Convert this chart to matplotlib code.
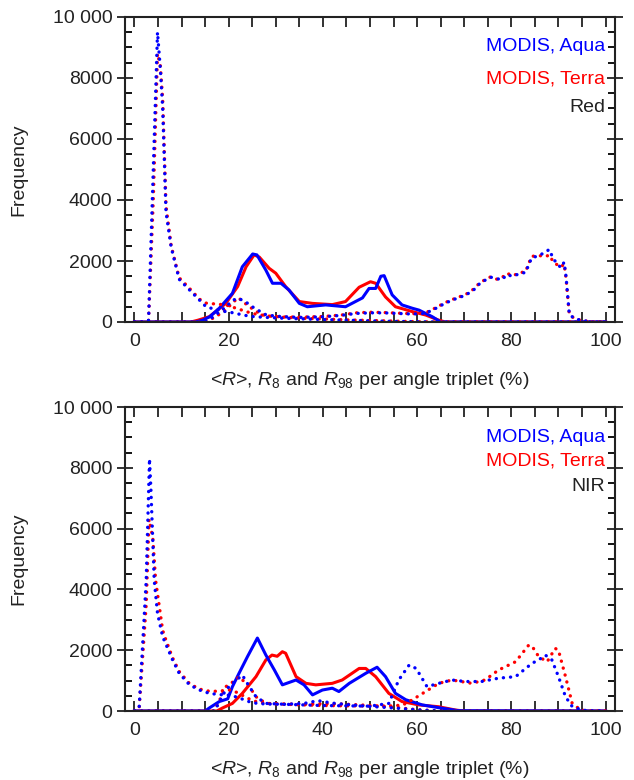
import numpy as np
import matplotlib.pyplot as plt
from matplotlib.ticker import MultipleLocator, FuncFormatter

plt.rcParams['font.family'] = ['Liberation Sans', 'DejaVu Sans']
plt.rcParams['mathtext.fontset'] = 'custom'
plt.rcParams['mathtext.rm'] = 'Liberation Sans'
plt.rcParams['mathtext.it'] = 'Liberation Sans:italic'

###############################################################################
# Data
###############################################################################

# ---- Red band (top panel) ----
red_mean_aqua_x = [0, 13, 14.5, 16, 18, 20.8, 22.9, 25.1, 26, 27.9, 29.3, 31.1, 32.8, 35, 36.7,
                   40.6, 44.8, 48.4, 49.8, 51.2, 52.3, 53, 54.7, 56.8, 59, 60.4, 63.2, 65, 100]
red_mean_aqua_y = [0, 0, 60, 175, 450, 940, 1810, 2230, 2200, 1700, 1270, 1270, 1050, 610, 500,
                   560, 500, 790, 1100, 1100, 1500, 1520, 890, 560, 450, 390, 175, 0, 0]
red_mean_terra_x = [0, 12, 13.5, 15.9, 19.4, 21.9, 23.7, 25.4, 26.5, 28.6, 30, 32.1, 35, 37.8,
                    42, 44.8, 47.7, 50.1, 51.2, 53.3, 55.4, 59, 61.8, 64.6, 66, 100]
red_mean_terra_y = [0, 0, 60, 175, 610, 1160, 1810, 2200, 2130, 1760, 1600, 1160, 670, 610,
                    570, 670, 1140, 1320, 1270, 820, 500, 340, 230, 60, 0, 0]

red_r8_aqua_x = [0, 2, 3, 4, 4.9, 5.5, 6, 6.7, 7.8, 9.5, 11.7, 13.8, 15.2, 17, 19, 21, 23, 25,
                 28, 32, 36, 40, 45, 50, 55, 60, 65, 100]
red_r8_aqua_y = [0, 0, 50, 5000, 9500, 8300, 7000, 3600, 2450, 1400, 1050, 720, 500, 420, 350,
                 300, 230, 180, 150, 120, 100, 80, 60, 40, 20, 10, 0, 0]
red_r8_terra_x = [0, 2, 3, 4, 4.9, 5.5, 6, 6.7, 7.8, 9.5, 11.7, 13.8, 15.2, 16.5, 19.4, 21, 23,
                  25, 28, 32, 36, 40, 45, 50, 55, 60, 65, 100]
red_r8_terra_y = [0, 0, 50, 4000, 8800, 8400, 7300, 3800, 2500, 1450, 1100, 750, 620, 600, 560,
                  480, 380, 280, 200, 150, 120, 100, 70, 50, 30, 10, 0, 0]

red_r98_aqua_x = [0, 15, 17, 19, 21, 22, 23.5, 25.5, 28, 31, 35, 40, 44, 47, 50, 53, 56, 59, 61.8,
                  64, 66, 68, 70.3, 72, 73.4, 75.6, 77, 78, 79, 80.3, 82, 83, 84.3, 85.7, 87.4,
                  88, 89, 90.5, 91.2, 91.6, 92.3, 93.5, 94.8, 97, 100]
red_r98_aqua_y = [0, 0, 200, 450, 720, 780, 670, 450, 230, 180, 150, 170, 220, 280, 300, 300, 280,
                  260, 285, 450, 620, 750, 880, 1050, 1280, 1470, 1420, 1380, 1550, 1500, 1600,
                  1620, 2100, 2170, 2300, 2380, 2050, 1780, 1960, 1500, 250, 100, 60, 0, 0]
red_r98_terra_x = [0, 15, 17, 19, 21, 22, 24.4, 26.5, 28, 31, 35, 40, 44, 47, 50, 53, 56, 59,
                   61.8, 64, 66, 68, 70.3, 72, 73.4, 75.6, 77, 78, 79, 80.3, 82, 83, 84.3, 85.7,
                   87.4, 88, 89, 90.5, 91.2, 91.6, 92.3, 93.5, 94.8, 97, 100]
red_r98_terra_y = [0, 0, 150, 350, 650, 800, 500, 285, 200, 170, 160, 180, 230, 300, 320, 310,
                   290, 270, 300, 470, 640, 770, 900, 1080, 1300, 1480, 1400, 1450, 1600, 1520,
                   1620, 1650, 2150, 2180, 2150, 2200, 1950, 1800, 1900, 1450, 250, 100, 60, 0, 0]

# ---- NIR band (bottom panel) ----
nir_mean_aqua_x = [0, 15, 15.9, 18, 19.8, 20.8, 22.2, 24, 26.1, 27.9, 29.7, 31.4, 34.3, 36, 37.8,
                   39.9, 42, 43.4, 45.6, 49.1, 51.5, 53.3, 55.4, 57.6, 61.1, 65.3, 68.8, 100]
nir_mean_aqua_y = [0, 0, 100, 310, 400, 800, 1240, 1790, 2400, 1840, 1350, 860, 1020, 860, 530,
                   690, 750, 640, 910, 1240, 1440, 1130, 580, 370, 200, 90, 10, 0]
nir_mean_terra_x = [0, 17.5, 18.7, 20.8, 22.9, 25.8, 27.9, 29.2, 30.3, 31.4, 32.1, 34.3, 36.4,
                    38.5, 42, 44.1, 47.7, 49.1, 51.2, 54, 56.8, 60.4, 64.6, 68.2, 70, 100]
nir_mean_terra_y = [0, 0, 100, 250, 580, 1130, 1680, 1840, 1800, 1950, 1900, 1130, 910, 860, 910,
                    1020, 1400, 1400, 1130, 580, 310, 200, 140, 30, 0, 0]

nir_r8_aqua_x = [0, 1, 2.5, 3.2, 3.5, 4.2, 4.9, 6, 8.1, 9.5, 11.7, 13.8, 15.9, 18, 20, 22, 24,
                 26, 28, 32, 36, 39, 42, 46, 50, 55, 60, 65, 100]
nir_r8_aqua_y = [0, 100, 4300, 8300, 7300, 4300, 3210, 2440, 1680, 1240, 860, 690, 580, 540, 520,
                 450, 320, 250, 230, 220, 250, 340, 260, 200, 150, 100, 40, 0, 0]
nir_r8_terra_x = [0, 1, 2.5, 3.1, 3.9, 4.5, 6, 6.7, 8.1, 9.5, 11.7, 13.8, 15.9, 18, 20, 22, 24,
                  26, 28, 32, 36, 40, 44, 48, 52, 56, 60, 65, 100]
nir_r8_terra_y = [0, 80, 3500, 6300, 5700, 4300, 2650, 2330, 1750, 1300, 900, 720, 650, 650, 700,
                  600, 420, 300, 250, 230, 220, 240, 230, 200, 160, 110, 40, 0, 0]

nir_r98_aqua_x = [0, 17, 19.4, 21.5, 22.9, 24.4, 25.8, 27.9, 32.1, 36, 40, 45, 50, 54, 56.1,
                  58.3, 59.8, 62.1, 64.6, 67.4, 70.2, 73.7, 77.3, 80.9, 84.4, 85.8, 87.2, 88.6,
                  90, 91.5, 92.9, 95, 97, 100]
nir_r98_aqua_y = [0, 0, 700, 1000, 1180, 800, 470, 250, 220, 200, 180, 170, 160, 250, 1020, 1510,
                  1400, 800, 910, 1020, 970, 970, 1080, 1130, 1570, 1680, 1840, 1680, 1130, 470,
                  150, 30, 0, 0]
nir_r98_terra_x = [0, 17, 19.4, 21.5, 22.2, 24.4, 25.8, 27.9, 32.1, 36, 40, 45, 50, 55, 57, 59,
                   61.8, 64.6, 67.4, 71.6, 74.4, 77.3, 80.9, 83.7, 84.4, 85.8, 87.6, 89.3, 90,
                   91.5, 92.9, 94.7, 97, 100]
nir_r98_terra_y = [0, 0, 800, 1020, 1130, 800, 470, 250, 220, 200, 180, 170, 160, 170, 200, 370,
                   640, 910, 1020, 910, 1020, 1350, 1620, 2170, 2130, 1790, 1620, 2060, 2000,
                   1130, 260, 30, 0, 0]

x_label = r'<$R$>, $R_8$ and $R_{98}$ per angle triplet (%)'
y_label = 'Frequency'
band_names = ['Red', 'NIR']
sat_names = ['MODIS, Aqua', 'MODIS, Terra']

###############################################################################
# Plot
###############################################################################

aqua_c = '#0000ff'
terra_c = '#ff0000'
dot = (0, (0.05, 2.1))
font_size = 14

fig = plt.figure(figsize=(6.34, 7.8), dpi=100)
ax1 = fig.add_axes([125/634, 1-322/780, 490/634, 305/780])
ax2 = fig.add_axes([125/634, 1-711/780, 490/634, 304/780])

panels = [
    (ax1, [(red_mean_terra_x, red_mean_terra_y, terra_c, '-'),
           (red_mean_aqua_x, red_mean_aqua_y, aqua_c, '-'),
           (red_r8_terra_x, red_r8_terra_y, terra_c, dot),
           (red_r98_terra_x, red_r98_terra_y, terra_c, dot),
           (red_r8_aqua_x, red_r8_aqua_y, aqua_c, dot),
           (red_r98_aqua_x, red_r98_aqua_y, aqua_c, dot)],
     band_names[0], [0.902, 0.797, 0.702]),
    (ax2, [(nir_mean_terra_x, nir_mean_terra_y, terra_c, '-'),
           (nir_mean_aqua_x, nir_mean_aqua_y, aqua_c, '-'),
           (nir_r8_terra_x, nir_r8_terra_y, terra_c, dot),
           (nir_r98_terra_x, nir_r98_terra_y, terra_c, dot),
           (nir_r8_aqua_x, nir_r8_aqua_y, aqua_c, dot),
           (nir_r98_aqua_x, nir_r98_aqua_y, aqua_c, dot)],
     band_names[1], [0.901, 0.822, 0.740]),
]

fmt = FuncFormatter(lambda v, p: '10 000' if v >= 10000 else '%d' % v)

for ax, series, band, ypos in panels:
    for x, y, c, ls in series:
        if ls == '-':
            ax.plot(x, y, color=c, lw=2.2, ls='-', solid_joinstyle='round')
        else:
            ax.plot(x, y, color=c, lw=2.4, ls=ls, dash_capstyle='round')
    ax.set_xlim(-2, 102)
    ax.set_ylim(0, 10000)
    ax.xaxis.set_major_locator(MultipleLocator(20))
    ax.xaxis.set_minor_locator(MultipleLocator(5))
    ax.yaxis.set_major_locator(MultipleLocator(2000))
    ax.yaxis.set_minor_locator(MultipleLocator(500))
    ax.yaxis.set_major_formatter(fmt)
    ax.tick_params(axis='x', which='both', direction='in', length=7, width=1.3,
                   top=True, labelsize=font_size, pad=8, colors='#222222')
    ax.tick_params(axis='y', which='major', direction='inout', length=12, width=1.3,
                   right=True, labelsize=font_size, pad=3, colors='#222222')
    ax.tick_params(axis='y', which='minor', direction='in', length=5, width=1.3, right=True)
    for s in ax.spines.values():
        s.set_linewidth(1.5)
        s.set_color('#222222')
    ax.set_xlabel(x_label, fontsize=font_size, labelpad=14, color='#222222')
    ax.set_ylabel(y_label, fontsize=font_size, labelpad=18, color='#222222')
    ax.text(0.98, ypos[0], sat_names[0], color=aqua_c, fontsize=font_size,
            ha='right', va='center', transform=ax.transAxes)
    ax.text(0.98, ypos[1], sat_names[1], color=terra_c, fontsize=font_size,
            ha='right', va='center', transform=ax.transAxes)
    ax.text(0.98, ypos[2], band, color='#222222', fontsize=font_size,
            ha='right', va='center', transform=ax.transAxes)

plt.savefig('out.png', dpi=100)
